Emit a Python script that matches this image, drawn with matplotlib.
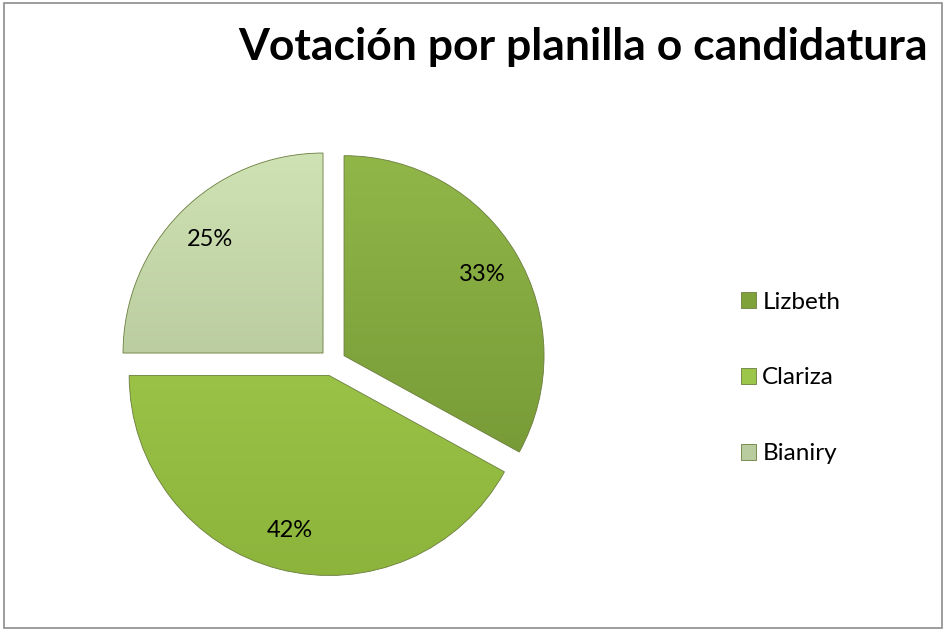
import numpy as np
import matplotlib.pyplot as plt
from matplotlib.patches import Rectangle, Patch
from matplotlib.colors import LinearSegmentedColormap

# Datos del gráfico
candidatos = ["Lizbeth", "Clariza", "Bianiry"]
porcentajes = [33, 42, 25]
titulo = "Votación por planilla o candidatura"

# Colores (arriba -> abajo) para el degradado de cada porción
colores_arriba = ["#93b94a", "#a9d455", "#d2e5b6"]
colores_abajo = ["#6c8e2f", "#8bb23a", "#a3b58a"]
colores_leyenda = ["#7fa23b", "#9cc64a", "#b9cc9f"]

plt.rcParams['font.family'] = ['Lato', 'DejaVu Sans']

fig = plt.figure(figsize=(9.46, 6.31), dpi=100)
fig.patch.set_facecolor('white')

# Marco gris del área del gráfico
fig.patches.append(Rectangle((0.004, 0.005), 0.992, 0.99, transform=fig.transFigure,
                             fill=False, edgecolor='#8c8c8c', linewidth=1.2))

ancho = 480 / 946
alto = 480 / 631
ax = fig.add_axes([92.5 / 946, 28.5 / 631, ancho, alto])
ax.set_xlim(-1.2, 1.2)
ax.set_ylim(-1.2, 1.2)
ax.set_aspect('equal')
ax.axis('off')

wedges, textos, autotextos = ax.pie(
    porcentajes, startangle=90, counterclock=False,
    explode=[0.067] * 3, radius=1.0, pctdistance=0.8,
    autopct=lambda p: f"{p:.0f}%",
    colors=colores_leyenda,
    wedgeprops=dict(edgecolor='#6b7d3e', linewidth=0.6),
    textprops=dict(fontsize=17, color='black'))

# Degradado vertical dentro de cada porción
for w, c1, c2 in zip(wedges, colores_arriba, colores_abajo):
    cmap = LinearSegmentedColormap.from_list('g', [c2, c1])
    grad = np.linspace(0, 1, 256).reshape(-1, 1)
    img = ax.imshow(grad, cmap=cmap, origin='lower', aspect='auto',
                    extent=(-1.2, 1.2, -1.2, 1.2), zorder=w.get_zorder() + 0.1)
    img.set_clip_path(w)
    w.set_facecolor('none')
    w.set_zorder(w.get_zorder() + 0.2)

for t in autotextos:
    t.set_zorder(5)

ax.set_xlim(-1.2, 1.2)
ax.set_ylim(-1.2, 1.2)

fig.text(928 / 946, 1 - 60 / 631, titulo, ha='right', va='baseline',
         fontsize=32, fontweight='bold', color='black')

manejadores = [Patch(facecolor=c, edgecolor='#6b7d3e', linewidth=0.6)
               for c in colores_leyenda]
fig.legend(manejadores, candidatos, loc='center left',
           bbox_to_anchor=(729 / 946, 1 - 378 / 631), frameon=False,
           fontsize=17.5, handlelength=0.62, handleheight=0.62,
           handletextpad=0.25, labelspacing=2.25, borderpad=0)

fig.savefig('out.png', dpi=100, facecolor='white')
